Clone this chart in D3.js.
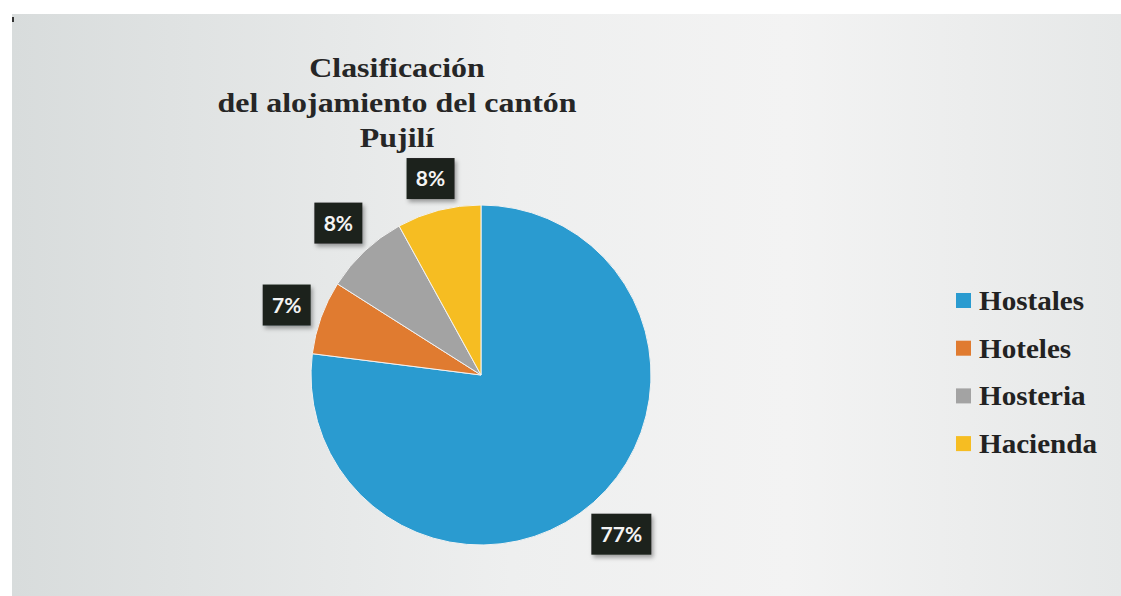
<!DOCTYPE html>
<html>
<head>
<meta charset="utf-8">
<script src="https://cdn.jsdelivr.net/npm/d3@7"></script>
<style>
  body { margin: 0; background: #fff; }
  svg { display: block; }
</style>
</head>
<body>
<div id="chart"></div>
<script>
// Data
const categories = ["Hostales", "Hoteles", "Hosteria", "Hacienda"];
const values = [77, 7, 8, 8];
const colors = ["#2a9bd0", "#e07b30", "#a3a3a3", "#f6bd22"];
const titleLines = ["Clasificación", "del alojamiento del cantón", "Pujilí"];

const dataset = categories.map((c, i) => ({ name: c, value: values[i], color: colors[i] }));

// Dimensions
let dimensions = {
    width: 1121,
    height: 596,
    cx: 481,
    cy: 375,
    radius: 170,
    labelGap: 177
}

const svg = d3.select("#chart")
    .append("svg")
    .attr("width", dimensions.width)
    .attr("height", dimensions.height)

const defs = svg.append("defs")
const grad = defs.append("linearGradient")
    .attr("id", "bg")
    .attr("x1", "0%").attr("x2", "100%")
    .attr("y1", "0%").attr("y2", "0%")
grad.append("stop").attr("offset", "0%").attr("stop-color", "#d8dcdc")
grad.append("stop").attr("offset", "45%").attr("stop-color", "#eeefef")
grad.append("stop").attr("offset", "70%").attr("stop-color", "#f3f3f3")
grad.append("stop").attr("offset", "100%").attr("stop-color", "#e6e8e8")

const shadow = defs.append("filter").attr("id", "shadow")
    .attr("x", "-20%").attr("y", "-20%").attr("width", "150%").attr("height", "150%")
shadow.append("feDropShadow")
    .attr("dx", 2).attr("dy", 3).attr("stdDeviation", 2)
    .attr("flood-color", "#000").attr("flood-opacity", 0.35)

// Background panel
svg.append("rect")
    .attr("x", 12).attr("y", 14)
    .attr("width", dimensions.width - 12)
    .attr("height", dimensions.height - 14)
    .attr("fill", "url(#bg)")
svg.append("rect")
    .attr("x", 12).attr("y", 17).attr("width", 2).attr("height", 5)
    .attr("fill", "#333")

// Title (the scanned original is stretched sideways)
svg.append("text")
    .attr("transform", "translate(397, 77) scale(1.14, 1)")
    .attr("text-anchor", "middle")
    .style("font-family", "'Liberation Serif', 'Times New Roman', serif")
    .style("font-weight", "bold")
    .style("font-size", "28px")
    .attr("fill", "#262626")
    .selectAll("tspan")
    .data(titleLines)
    .join("tspan")
    .attr("x", 0)
    .attr("dy", (d, i) => i === 0 ? 0 : 35)
    .text((d) => d)

// Pie
const pie = d3.pie()
    .value((d) => d.value)
    .sort(null)

const arc = d3.arc()
    .innerRadius(0)
    .outerRadius(dimensions.radius)

const arcs = pie(dataset)

const ctnr = svg.append("g")
    .attr("transform", `translate(${dimensions.cx}, ${dimensions.cy})`)

ctnr.selectAll("path")
    .data(arcs)
    .join("path")
    .attr("d", arc)
    .attr("fill", (d) => d.data.color)
    .attr("stroke", "#f2f2f2")
    .attr("stroke-width", 1)

// Data labels, placed outside end like Excel
const boxW = (d) => d.data.value >= 10 ? 60 : 48
const boxH = 41
const labelPos = (d) => {
    const a = (d.startAngle + d.endAngle) / 2
    const ux = Math.sin(a), uy = -Math.cos(a)
    const r = dimensions.labelGap + Math.abs(ux) * boxW(d) / 2 + Math.abs(uy) * boxH / 2
    return [ux * r, uy * r]
}

const labels = ctnr.selectAll("g.label")
    .data(arcs)
    .join("g")
    .attr("class", "label")
    .attr("transform", (d) => `translate(${labelPos(d)})`)

labels.append("rect")
    .attr("x", (d) => -boxW(d) / 2)
    .attr("y", -boxH / 2)
    .attr("width", boxW)
    .attr("height", boxH)
    .attr("fill", "#1b201c")
    .attr("filter", "url(#shadow)")

labels.append("text")
    .attr("text-anchor", "middle")
    .attr("dy", "0.36em")
    .attr("fill", "#f4f4f4")
    .style("font-family", "Lato, 'Open Sans', sans-serif")
    .style("font-weight", "bold")
    .style("font-size", "21px")
    .text((d) => d.data.value + "%")

// Legend
const legend = svg.append("g")
    .attr("transform", "translate(956, 300)")

const legendItem = legend.selectAll("g")
    .data(dataset)
    .join("g")
    .attr("transform", (d, i) => `translate(0, ${i * 47.7})`)

legendItem.append("rect")
    .attr("x", 0)
    .attr("y", -7)
    .attr("width", 15)
    .attr("height", 15)
    .attr("fill", (d) => d.color)

legendItem.append("text")
    .attr("transform", "translate(23, 10) scale(1.04, 1)")
    .style("font-family", "'Liberation Serif', 'Times New Roman', serif")
    .style("font-weight", "bold")
    .style("font-size", "28px")
    .attr("fill", "#222")
    .text((d) => d.name)
</script>
</body>
</html>
